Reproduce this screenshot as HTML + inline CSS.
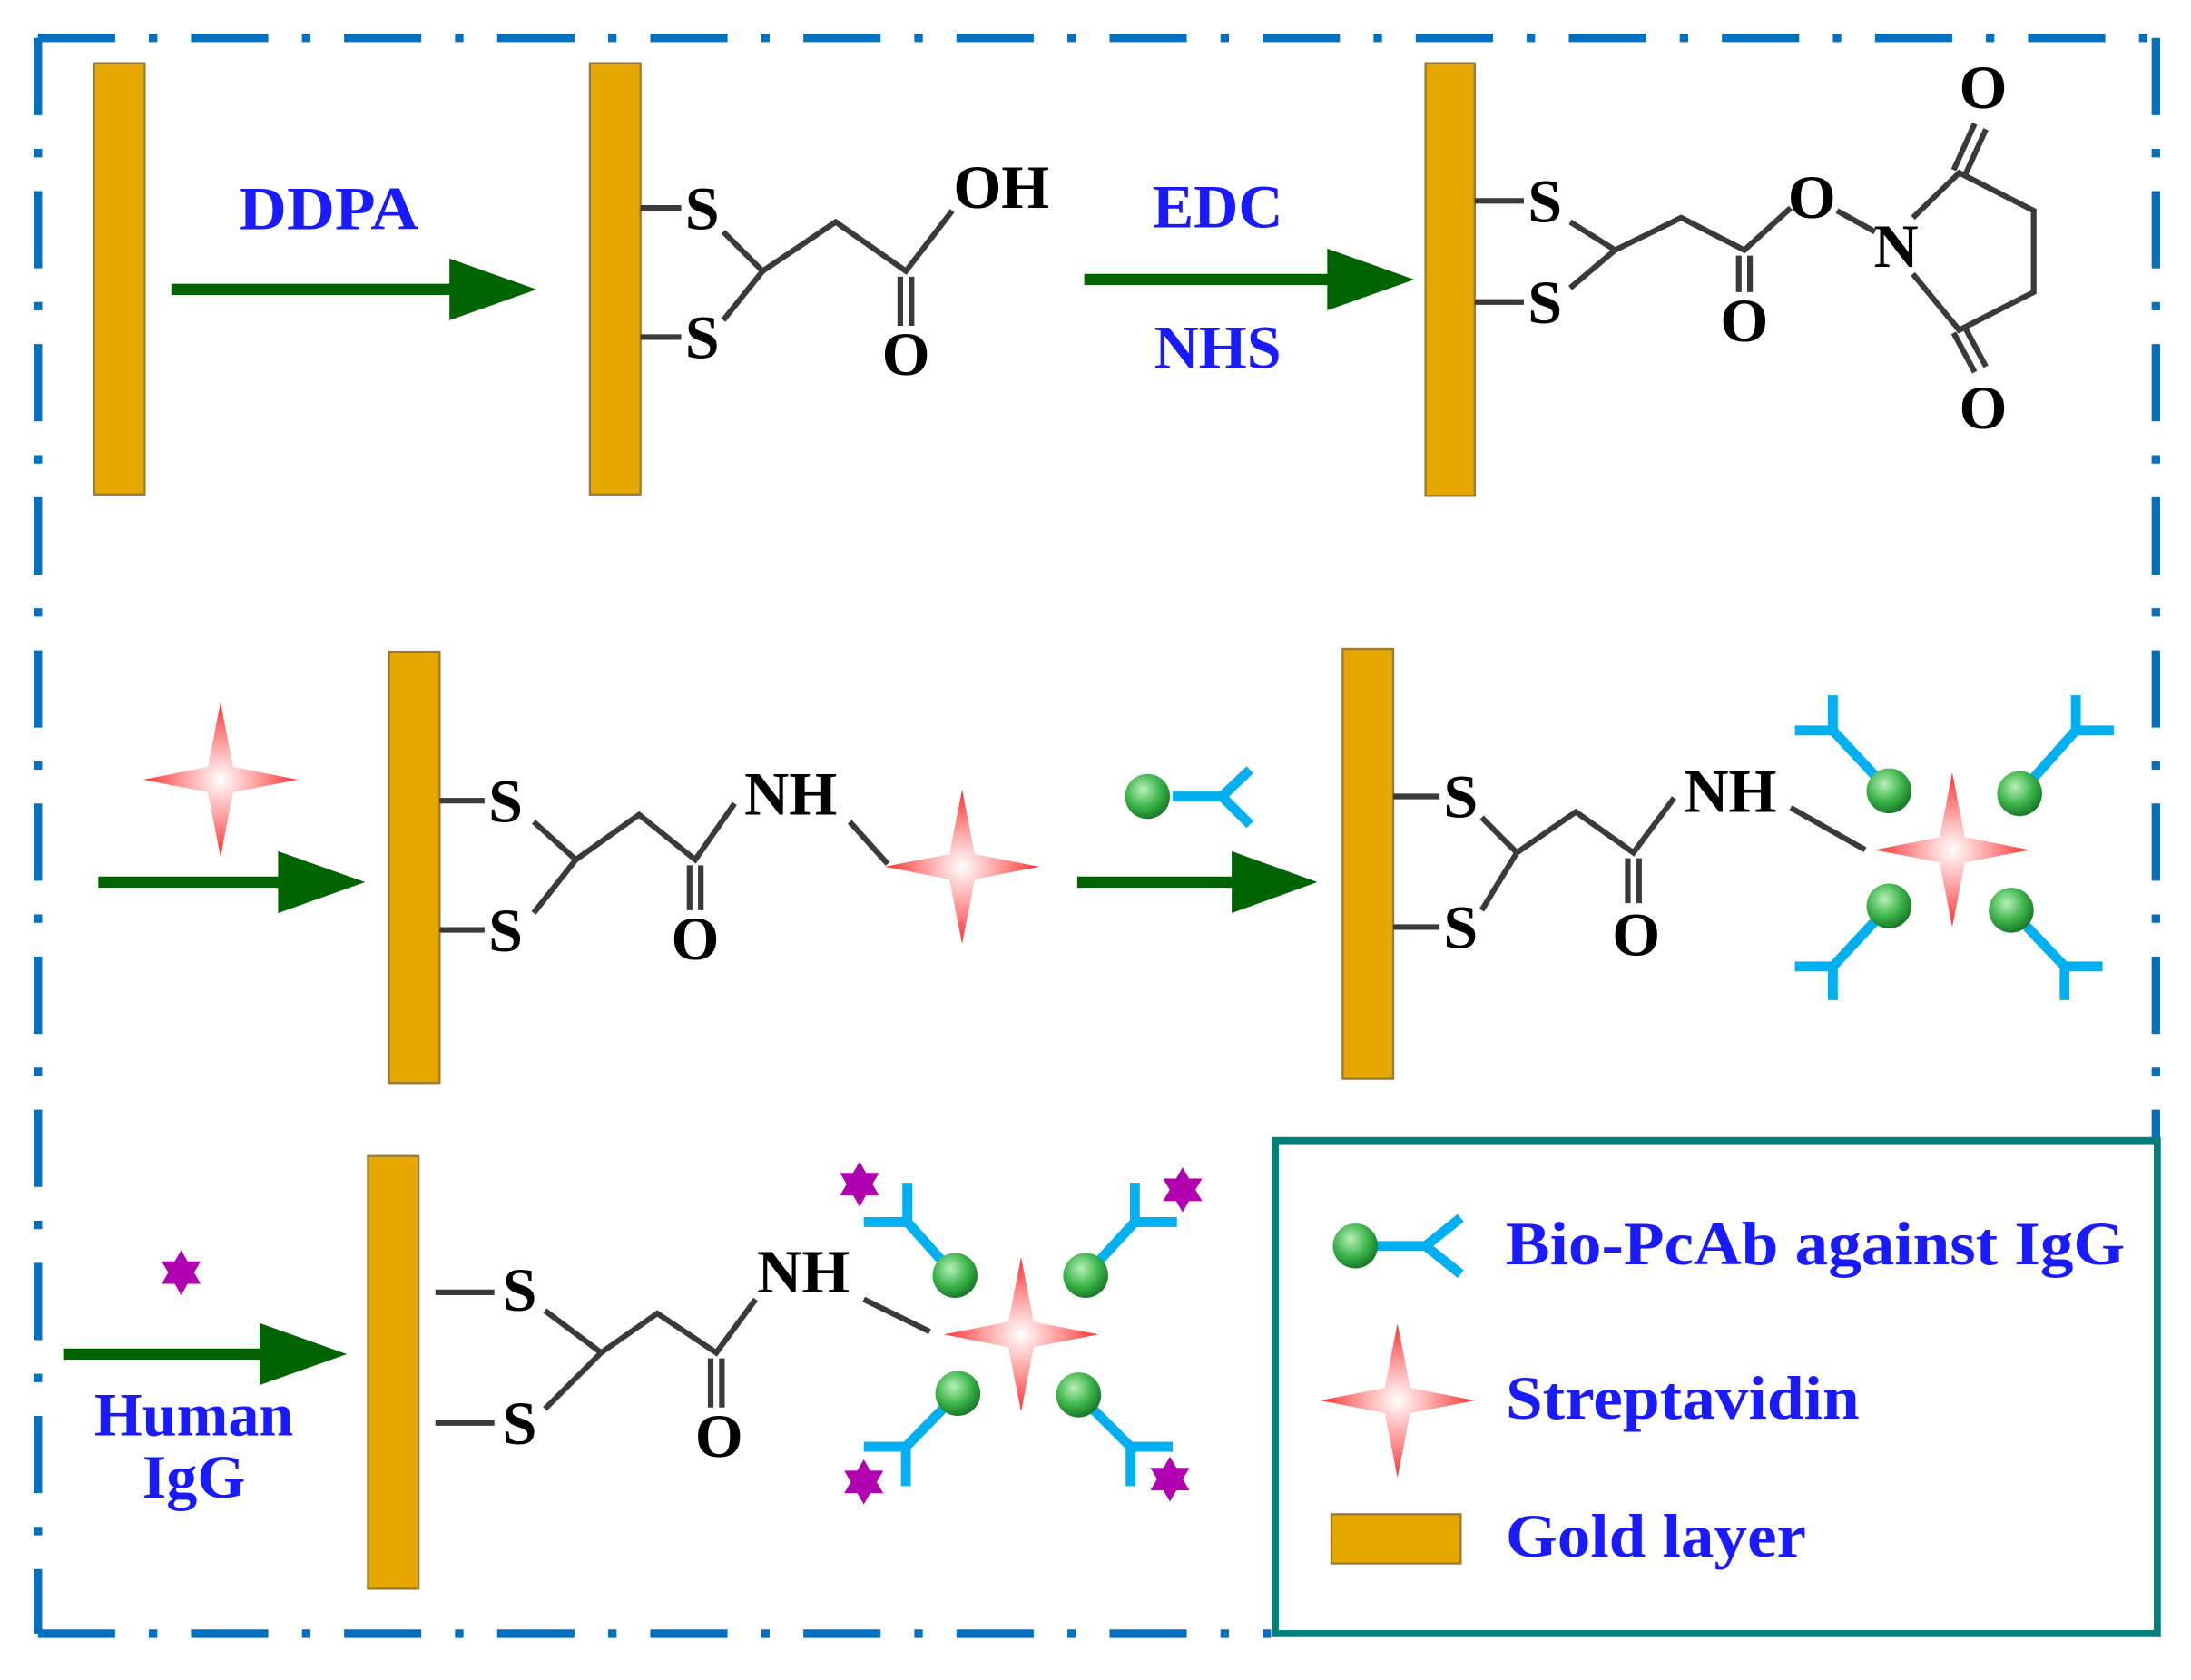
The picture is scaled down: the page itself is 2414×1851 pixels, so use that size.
<!DOCTYPE html>
<html><head><meta charset="utf-8"><style>html,body{margin:0;padding:0;background:#fff}svg{display:block}</style></head>
<body>
<svg width="2414" height="1851" viewBox="0 0 1560 1196" preserveAspectRatio="none" xmlns="http://www.w3.org/2000/svg">
<defs>
<radialGradient id="rg" cx="50%" cy="50%" r="50%"><stop offset="0" stop-color="#fff"/><stop offset="0.5" stop-color="#ff9a9a"/><stop offset="1" stop-color="#ff3030"/></radialGradient>
<radialGradient id="gg" cx="40%" cy="35%" r="65%"><stop offset="0" stop-color="#b8f0b8"/><stop offset="0.6" stop-color="#3cb44a"/><stop offset="1" stop-color="#1a7a2a"/></radialGradient>
<path id="star" d="M0,-55 L9,-9 L55,0 L9,9 L0,55 L-9,9 L-55,0 L-9,-9 Z" fill="url(#rg)"/>
<path id="mstar" d="M0,-16 L4.6,-8 L13.9,-8 L9.2,0 L13.9,8 L4.6,8 L0,16 L-4.6,8 L-13.9,8 L-9.2,0 L-13.9,-8 L-4.6,-8 Z" fill="#b000b0"/>
<circle id="ball" r="16" fill="url(#gg)"/>
</defs>
<rect width="1560" height="1196" fill="#fff"/>
<g stroke="#0070c0" stroke-width="6" fill="none" stroke-dasharray="55 24 6 24">
<line x1="27" y1="27" x2="1535" y2="27"/>
<line x1="27" y1="27" x2="27" y2="1163"/>
<line x1="1535" y1="27" x2="1535" y2="810"/>
<line x1="27" y1="1163" x2="905" y2="1163"/>
</g>
<rect x="908" y="812" width="628" height="351" fill="none" stroke="#00807a" stroke-width="5"/>
<g fill="#e6a800" stroke="#9a7a30" stroke-width="1.5">
<rect x="67" y="45" width="36" height="307"/>
<rect x="420" y="45" width="36" height="307"/>
<rect x="1015" y="45" width="35" height="308"/>
<rect x="277" y="464" width="36" height="307"/>
<rect x="956" y="462" width="36" height="306"/>
<rect x="262" y="823" width="36" height="308"/>
<rect x="948" y="1078" width="92" height="35"/>
</g>
<g fill="#006400" stroke="#006400">
<line x1="122" y1="206" x2="325" y2="206" stroke-width="8"/><path d="M320,184 L382,206 L320,228Z" stroke="none"/>
<line x1="772" y1="199" x2="950" y2="199" stroke-width="8"/><path d="M945,177 L1007,199 L945,221Z" stroke="none"/>
<line x1="70" y1="628" x2="203" y2="628" stroke-width="8"/><path d="M198,606 L260,628 L198,650Z" stroke="none"/>
<line x1="767" y1="628" x2="882" y2="628" stroke-width="8"/><path d="M877,606 L938,628 L877,650Z" stroke="none"/>
<line x1="45" y1="964" x2="190" y2="964" stroke-width="8"/><path d="M185,942 L247,964 L185,986Z" stroke="none"/>
</g>
<g fill="#1a1aff" font-family="Liberation Serif, serif" font-weight="bold" font-size="44" text-anchor="middle">
<text x="234" y="163" textLength="128" lengthAdjust="spacingAndGlyphs">DDPA</text>
<text x="867" y="162">EDC</text>
<text x="867" y="262">NHS</text>
<text x="138" y="1022">Human</text>
<text x="138" y="1066">IgG</text>
<g text-anchor="start"><text x="1072" y="900" textLength="441" lengthAdjust="spacingAndGlyphs">Bio-PcAb against IgG</text>
<text x="1072" y="1010" textLength="252" lengthAdjust="spacingAndGlyphs">Streptavidin</text>
<text x="1072" y="1108" textLength="214" lengthAdjust="spacingAndGlyphs">Gold layer</text></g>
</g>
<g stroke="#3a3a3a" stroke-width="4" fill="none">
<line x1="456" y1="148" x2="485" y2="148"/><line x1="456" y1="240" x2="485" y2="240"/>
<polyline points="515,165 543,193 515,228"/><polyline points="543,193 595,158 645,193 678,150"/>
<line x1="641" y1="197" x2="641" y2="232"/><line x1="649" y1="197" x2="649" y2="232"/>
<line x1="1050" y1="143" x2="1085" y2="143"/><line x1="1050" y1="215" x2="1085" y2="215"/>
<polyline points="1118,158 1150,178 1118,205"/><polyline points="1150,178 1197,155 1242,178 1275,148"/>
<line x1="1238" y1="182" x2="1238" y2="208"/><line x1="1246" y1="182" x2="1246" y2="208"/>
<line x1="1308" y1="150" x2="1335" y2="165"/>
<polyline points="1362,155 1395,123 1448,150 1448,208 1395,235 1362,195"/>
<line x1="1391" y1="121" x2="1406" y2="88"/><line x1="1399" y1="125" x2="1414" y2="92"/>
<line x1="1391" y1="237" x2="1406" y2="265"/><line x1="1399" y1="233" x2="1414" y2="261"/>
<line x1="313" y1="570" x2="345" y2="570"/><line x1="313" y1="662" x2="345" y2="662"/>
<polyline points="380,585 410,612 380,650"/><polyline points="410,612 455,580 495,612 523,572"/>
<line x1="491" y1="616" x2="491" y2="648"/><line x1="499" y1="616" x2="499" y2="648"/>
<polyline points="605,585 632,615"/>
<line x1="992" y1="567" x2="1025" y2="567"/><line x1="992" y1="660" x2="1025" y2="660"/>
<polyline points="1055,582 1080,607 1055,648"/><polyline points="1080,607 1122,578 1163,607 1192,568"/>
<line x1="1159" y1="611" x2="1159" y2="643"/><line x1="1167" y1="611" x2="1167" y2="643"/>
<line x1="1275" y1="575" x2="1328" y2="605"/>
<line x1="310" y1="920" x2="352" y2="920"/><line x1="310" y1="1013" x2="352" y2="1013"/>
<polyline points="388,933 428,963 388,1003"/><polyline points="428,963 468,935 510,963 538,925"/>
<line x1="506" y1="967" x2="506" y2="1002"/><line x1="514" y1="967" x2="514" y2="1002"/>
<line x1="615" y1="925" x2="662" y2="948"/>
</g>
<g fill="#000" font-family="Liberation Serif, serif" font-weight="bold" font-size="44" text-anchor="middle">
<text x="500" y="163">S</text><text x="500" y="255">S</text><text x="645" y="267">O</text><text x="713" y="148">OH</text>
<text x="1100" y="158">S</text><text x="1100" y="230">S</text><text x="1242" y="243">O</text><text x="1290" y="155">O</text><text x="1350" y="190">N</text><text x="1412" y="77">O</text><text x="1412" y="305">O</text>
<text x="360" y="585">S</text><text x="360" y="677">S</text><text x="495" y="683">O</text><text x="563" y="580">NH</text>
<text x="1040" y="582">S</text><text x="1040" y="675">S</text><text x="1165" y="680">O</text><text x="1232" y="578">NH</text>
<text x="370" y="933">S</text><text x="370" y="1028">S</text><text x="512" y="1037">O</text><text x="572" y="920">NH</text>
</g>
<use href="#star" x="157" y="555"/>
<use href="#star" x="685" y="617"/>
<use href="#star" x="1390" y="605"/>
<use href="#star" x="727" y="950"/>
<use href="#star" x="995" y="997"/>
<g stroke="#00b0f0" stroke-width="7" fill="none">
<polyline points="835,567 870,567"/><polyline points="890,548 870,567 890,587"/>
<polyline points="980,887 1015,887"/><polyline points="1040,867 1015,887 1040,907"/>
<polyline points="1345,563 1305,520"/><polyline points="1305,495 1305,520 1278,520"/>
<polyline points="1438,565 1478,520"/><polyline points="1478,495 1478,520 1505,520"/>
<polyline points="1345,645 1305,688"/><polyline points="1305,712 1305,688 1278,688"/>
<polyline points="1432,648 1470,688"/><polyline points="1470,712 1470,688 1497,688"/>
<polyline points="680,908 646,870"/><polyline points="646,842 646,870 615,870"/>
<polyline points="773,908 808,870"/><polyline points="808,842 808,870 838,870"/>
<polyline points="682,992 645,1030"/><polyline points="645,1058 645,1030 615,1030"/>
<polyline points="768,993 805,1030"/><polyline points="805,1058 805,1030 835,1030"/>
</g>
<use href="#ball" x="817" y="567"/><use href="#ball" x="965" y="887"/>
<use href="#ball" x="1345" y="563"/><use href="#ball" x="1438" y="565"/><use href="#ball" x="1345" y="645"/><use href="#ball" x="1432" y="648"/>
<use href="#ball" x="680" y="908"/><use href="#ball" x="773" y="908"/><use href="#ball" x="682" y="992"/><use href="#ball" x="768" y="993"/>
<use href="#mstar" x="129" y="906"/><use href="#mstar" x="612" y="843"/><use href="#mstar" x="842" y="847"/><use href="#mstar" x="615" y="1055"/><use href="#mstar" x="833" y="1053"/>
</svg>
</body></html>
